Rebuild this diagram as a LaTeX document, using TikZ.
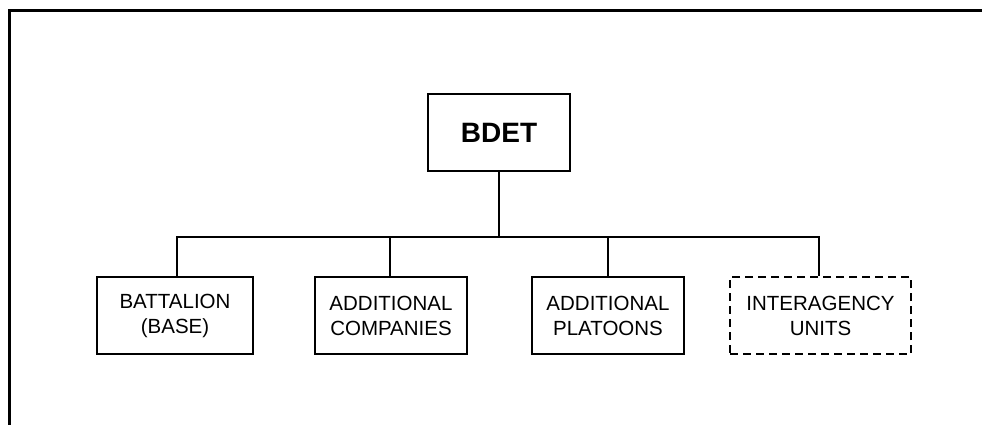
\documentclass[tikz,border=0pt]{standalone}
\usepackage{fontspec}
\setmainfont{Liberation Sans}
\begin{document}
\begin{tikzpicture}[x=1pt,y=-1pt,
  unit/.style={draw,line width=1.8pt,minimum height=77pt,align=center,inner sep=0pt,
    font=\fontsize{20.5}{25}\selectfont},
  conn/.style={line width=1.8pt}]
\useasboundingbox (0,0) rectangle (982,424);
\draw[line width=3.2pt] (9.5,430) -- (9.5,10.5) -- (990,10.5);
\node[draw,line width=1.8pt,minimum width=142pt,minimum height=77pt,inner sep=0pt,
  font=\fontsize{28}{32}\selectfont\bfseries] (bdet) at (499,132.5) {BDET};
\node[unit,minimum width=156pt] (bat) at (175,315.5) {BATTALION\\(BASE)};
\node[unit,minimum width=152pt] (comp) at (391,315.5) {ADDITIONAL\\COMPANIES};
\node[unit,minimum width=152pt] (plat) at (608,315.5) {ADDITIONAL\\PLATOONS};
\node[unit,minimum width=181pt,dash pattern=on 8pt off 5pt] (inter) at (820.5,315.5) {INTERAGENCY\\UNITS};
\coordinate (bus) at (499,237);
\draw[conn] (bdet.south) -- (bus);
\draw[conn] (bat.north -| 177,0) |- (bus) -| (inter.north -| 819,0);
\draw[conn] (comp.north -| 390,0) -- (390,237);
\draw[conn] (plat.north -| 608,0) -- (608,237);
\end{tikzpicture}
\end{document}
